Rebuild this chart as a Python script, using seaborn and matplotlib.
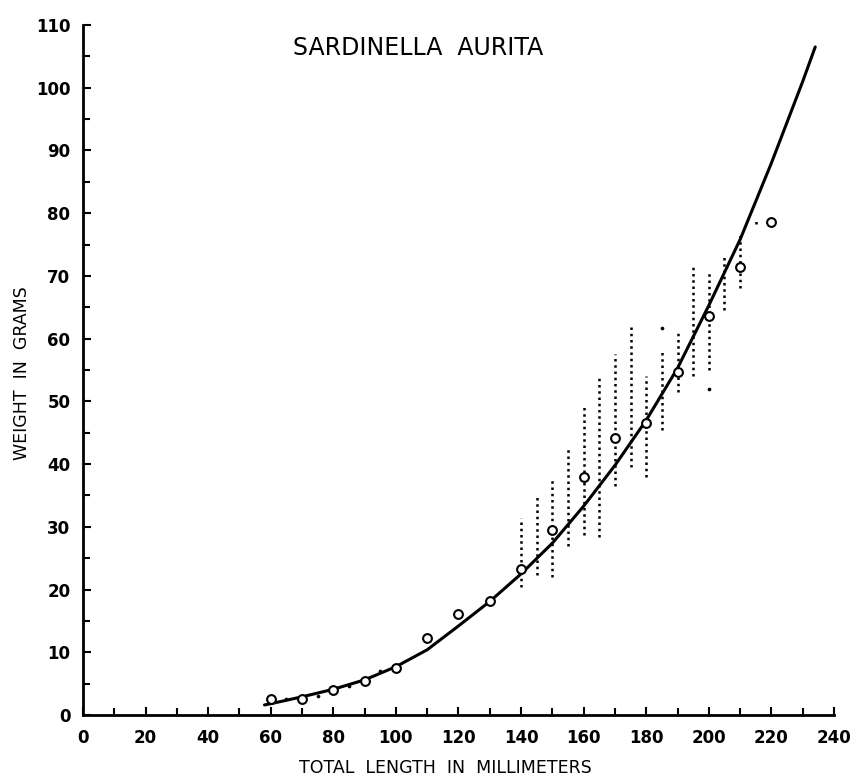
import matplotlib
matplotlib.use("Agg")
import matplotlib.pyplot as plt
import seaborn as sns
import pandas as pd

# ---- data ----
mean_x = [60, 70, 80, 90, 100, 110, 120, 130, 140, 150, 160, 170, 180, 190, 200, 210, 220]
mean_y = [2.5, 2.5, 4.0, 5.5, 7.5, 12.3, 16.1, 18.2, 23.3, 29.5, 38.0, 44.2, 46.6, 54.7, 63.6, 71.4, 78.6]

curve_x = [58, 60, 70, 80, 90, 100, 110, 120, 130, 140, 150, 160, 170, 180, 190, 200, 210, 220, 226, 230, 234]
curve_y = [1.6, 1.8, 2.9, 4.1, 5.6, 7.7, 10.4, 14.2, 18.1, 22.5, 27.4, 33.3, 39.8, 47.0, 55.3, 65.3, 75.8, 88.0, 95.8, 101.0, 106.5]

# individual-fish weight ranges (dotted columns)
col_x = [140, 145, 150, 155, 160, 165, 170, 175, 180, 185, 190, 195, 200, 205, 210, 215]
col_lo = [20.4, 22.3, 22.0, 27.0, 28.7, 28.4, 36.5, 39.5, 38.0, 45.5, 51.5, 54.0, 55.0, 64.6, 68.0, 78.3]
col_hi = [31.4, 34.8, 37.8, 42.5, 49.4, 53.7, 57.6, 62.0, 54.0, 58.0, 61.0, 71.8, 70.5, 73.0, 77.0, 79.0]

# isolated individual points
iso_x = [65, 75, 85, 95, 185, 200]
iso_y = [2.5, 3.0, 4.7, 7.0, 61.7, 52.0]

x_ticks = list(range(0, 241, 20))
y_ticks = list(range(0, 111, 10))

# ---- figure ----
sns.set_theme(style="ticks")
plt.rcParams["font.family"] = ["DejaVu Sans"]

fig = plt.figure(figsize=(8.54, 7.78), dpi=100)
ax = fig.add_axes([83 / 854, 1 - 715 / 778, (834 - 83) / 854, (715 - 25) / 778])

means = pd.DataFrame({"x": mean_x, "y": mean_y})
curve = pd.DataFrame({"x": curve_x, "y": curve_y})
iso = pd.DataFrame({"x": iso_x, "y": iso_y})

ax.vlines(col_x, col_lo, col_hi, colors="black", linewidth=1.8,
          linestyles=(0, (1, 1.5)))
sns.scatterplot(data=iso, x="x", y="y", ax=ax, color="black", s=7,
                marker="o", edgecolor="black", linewidth=0, zorder=3)
sns.lineplot(data=curve, x="x", y="y", ax=ax, color="black", linewidth=2.2,
             zorder=4, clip_on=False)
sns.scatterplot(data=means, x="x", y="y", ax=ax, s=40, marker="o",
                facecolor="white", edgecolor="black", linewidth=1.5, zorder=5,
                clip_on=False)

ax.set_xlim(0, 240)
ax.set_ylim(0, 110)
ax.set_xticks(x_ticks)
ax.set_xticks(list(range(0, 241, 10)), minor=True)
ax.set_yticks(y_ticks)
ax.set_yticks(list(range(0, 111, 5)), minor=True)
ax.set_xticklabels([str(v) for v in x_ticks], fontsize=12, fontweight="bold")
ax.set_yticklabels([str(v) for v in y_ticks], fontsize=12, fontweight="bold")
ax.tick_params(axis="both", which="both", direction="in", color="black",
               labelcolor="black", width=1.5)
ax.tick_params(axis="both", which="major", length=6)
ax.tick_params(axis="both", which="minor", length=5)
ax.tick_params(axis="x", which="major", pad=10)
ax.tick_params(axis="y", which="major", pad=9)

for side in ["top", "right"]:
    ax.spines[side].set_visible(False)
for side in ["left", "bottom"]:
    ax.spines[side].set_color("black")
    ax.spines[side].set_linewidth(2.0)

ax.set_xlabel("")
ax.set_ylabel("")

ax.text(107, 106.3, "SARDINELLA  AURITA", ha="center", va="center",
        fontsize=17, color="black")
fig.text(445 / 854, 1 - 768 / 778, "TOTAL  LENGTH  IN  MILLIMETERS",
         ha="center", va="center", fontsize=12.5, color="black")
fig.text(22 / 854, 1 - 373 / 778, "WEIGHT  IN  GRAMS", rotation=90,
         ha="center", va="center", fontsize=12.5, color="black")

fig.savefig("out.png", dpi=100, facecolor="white")
